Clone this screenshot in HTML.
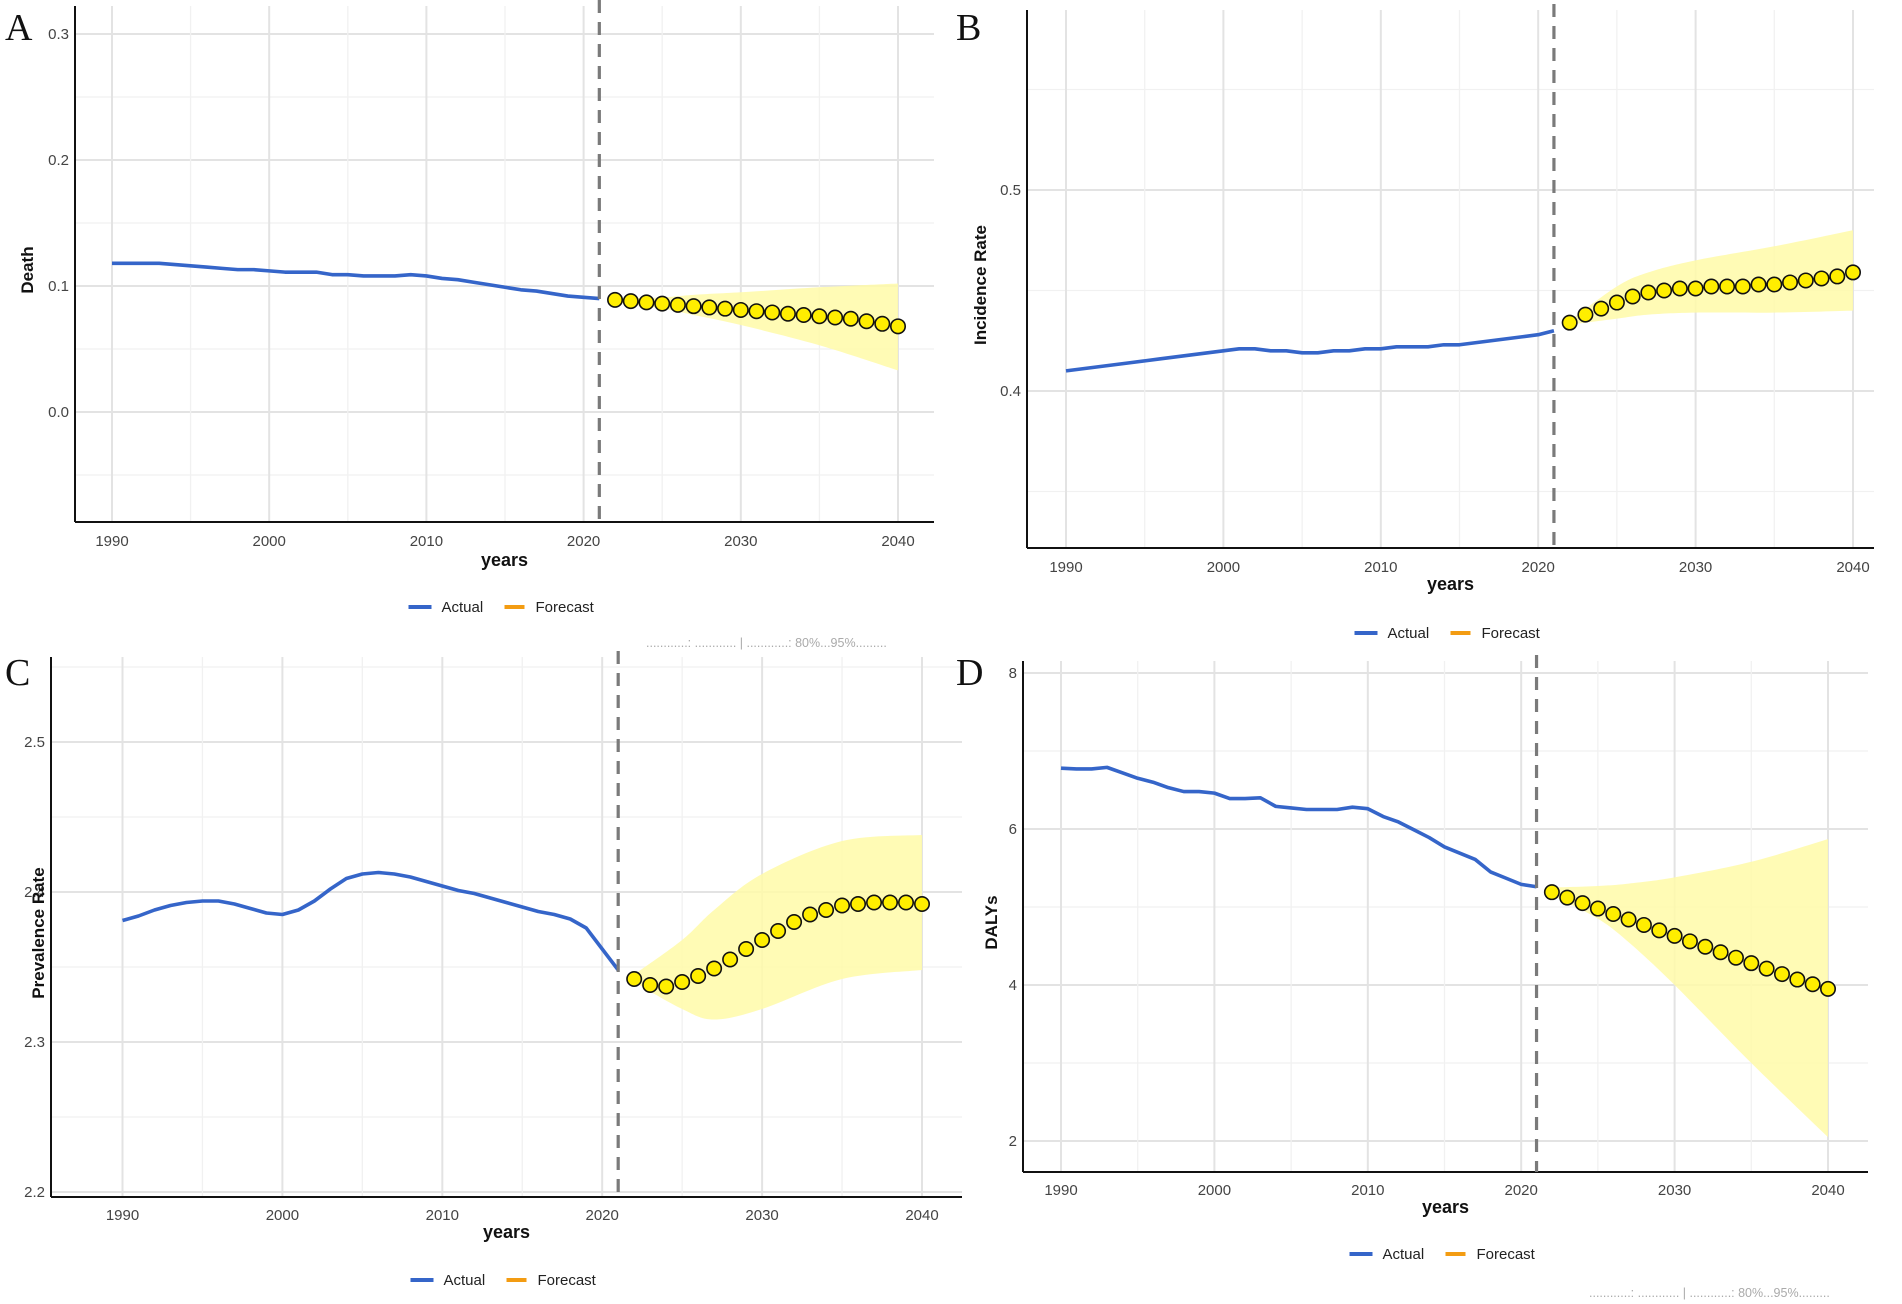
<!DOCTYPE html>
<html><head><meta charset="utf-8"><style>
html,body{margin:0;padding:0;background:#fff;}
svg{display:block;font-family:"Liberation Sans",sans-serif;}
</style></head><body>
<svg id="fig" width="1902" height="1304" viewBox="0 0 1902 1304" xmlns="http://www.w3.org/2000/svg"></svg>
<script>
// ---------- data ----------
const actualYears = [];
for (let y = 1990; y <= 2021; y++) actualYears.push(y);
const forecastYears = [];
for (let y = 2022; y <= 2040; y++) forecastYears.push(y);
const bandYears = [2022, 2025, 2027, 2030, 2035, 2040];

const deathActual = [.118,.118,.118,.118,.117,.116,.115,.114,.113,.113,.112,.111,.111,.111,.109,.109,.108,.108,.108,.109,.108,.106,.105,.103,.101,.099,.097,.096,.094,.092,.091,.090];
const deathForecast = [.089,.088,.087,.086,.085,.084,.083,.082,.081,.080,.079,.078,.077,.076,.075,.074,.072,.070,.068];
const deathLow = [.087,.082,.077,.069,.053,.033];
const deathHigh = [.090,.091,.093,.095,.099,.102];
const deathTicks = [0.0, 0.1, 0.2, 0.3];
const deathTickLabels = ["0.0","0.1","0.2","0.3"];

const incActual = [.410,.411,.412,.413,.414,.415,.416,.417,.418,.419,.420,.421,.421,.420,.420,.419,.419,.420,.420,.421,.421,.422,.422,.422,.423,.423,.424,.425,.426,.427,.428,.430];
const incForecast = [.434,.438,.441,.444,.447,.449,.450,.451,.451,.452,.452,.452,.453,.453,.454,.455,.456,.457,.459];
const incLow = [.433,.436,.438,.439,.439,.440];
const incHigh = [.435,.452,.459,.465,.472,.480];
const incTicks = [0.4, 0.5];
const incTickLabels = ["0.4","0.5"];

const prevActual = [2.381,2.384,2.388,2.391,2.393,2.394,2.394,2.392,2.389,2.386,2.385,2.388,2.394,2.402,2.409,2.412,2.413,2.412,2.410,2.407,2.404,2.401,2.399,2.396,2.393,2.390,2.387,2.385,2.382,2.376,2.362,2.348];
const prevForecast = [2.342,2.338,2.337,2.340,2.344,2.349,2.355,2.362,2.368,2.374,2.380,2.385,2.388,2.391,2.392,2.393,2.393,2.393,2.392];
const prevLow = [2.340,2.322,2.315,2.322,2.342,2.348];
const prevHigh = [2.345,2.368,2.388,2.412,2.434,2.438];
const prevTicks = [2.2, 2.3, 2.4, 2.5];
const prevTickLabels = ["2.2","2.3","2.4","2.5"];

const dalyActual = [6.78,6.77,6.77,6.79,6.72,6.65,6.60,6.53,6.48,6.48,6.46,6.39,6.39,6.40,6.29,6.27,6.25,6.25,6.25,6.28,6.26,6.16,6.09,5.99,5.89,5.77,5.69,5.61,5.45,5.37,5.29,5.26];
const dalyForecast = [5.19,5.12,5.05,4.98,4.91,4.84,4.77,4.70,4.63,4.56,4.49,4.42,4.35,4.28,4.21,4.14,4.07,4.01,3.95];
const dalyLow = [5.15,4.85,4.55,4.00,3.00,2.05];
const dalyHigh = [5.25,5.27,5.30,5.38,5.58,5.87];
const dalyTicks = [2, 4, 6, 8];
const dalyTickLabels = ["2","4","6","8"];

const xTicks = [1990, 2000, 2010, 2020, 2030, 2040];
const xTickLabels = ["1990","2000","2010","2020","2030","2040"];
const cutYear = 2021;

// ---------- layout (pixels) ----------
const panels = [
 {key:"death", letter:"A", lx:5, ly:40, title:"Death", tx:27,
  L:75, R:934, T:6, B:522, x0:1990, px0:112, x1:2040, px1:898, v0:0.1, pv0:286, v1:0.2, pv1:160,
  labY:535, yearsY:566, legY:607, act:deathActual, fc:deathForecast, lo:deathLow, hi:deathHigh, ticks:deathTicks, tl:deathTickLabels},
 {key:"incidence", letter:"B", lx:956, ly:40, title:"Incidence Rate", tx:980,
  L:1027, R:1874, T:10, B:548, x0:1990, px0:1066, x1:2040, px1:1853, v0:0.4, pv0:391, v1:0.5, pv1:190,
  labY:561, yearsY:590, legY:633, act:incActual, fc:incForecast, lo:incLow, hi:incHigh, ticks:incTicks, tl:incTickLabels},
 {key:"prevalence", letter:"C", lx:5, ly:685, title:"Prevalence Rate", tx:38,
  L:51, R:962, T:657, B:1197, x0:1990, px0:122.5, x1:2040, px1:922, v0:2.3, pv0:1042, v1:2.4, pv1:892,
  labY:1209, yearsY:1238, legY:1280, act:prevActual, fc:prevForecast, lo:prevLow, hi:prevHigh, ticks:prevTicks, tl:prevTickLabels},
 {key:"dalys", letter:"D", lx:956, ly:685, title:"DALYs", tx:991,
  L:1023, R:1868, T:661, B:1172, x0:1990, px0:1061, x1:2040, px1:1828, v0:4, pv0:985, v1:6, pv1:829,
  labY:1184, yearsY:1213, legY:1254, act:dalyActual, fc:dalyForecast, lo:dalyLow, hi:dalyHigh, ticks:dalyTicks, tl:dalyTickLabels}
];

const NS = "http://www.w3.org/2000/svg";
const svg = document.getElementById("fig");
function mk(tag, attrs, parent, text){
  const e = document.createElementNS(NS, tag);
  for (const k in attrs) e.setAttribute(k, attrs[k]);
  if (text !== undefined) e.textContent = text;
  (parent || svg).appendChild(e);
  return e;
}
// smooth path through points (Catmull-Rom -> cubic Bezier)
function smooth(pts, start){
  let d = start ? "M" + pts[0][0] + "," + pts[0][1] : "L" + pts[0][0] + "," + pts[0][1];
  for (let i = 0; i < pts.length - 1; i++) {
    const p0 = pts[Math.max(0, i-1)], p1 = pts[i], p2 = pts[i+1], p3 = pts[Math.min(pts.length-1, i+2)];
    const c1 = [p1[0] + (p2[0]-p0[0])/6, p1[1] + (p2[1]-p0[1])/6];
    const c2 = [p2[0] - (p3[0]-p1[0])/6, p2[1] - (p3[1]-p1[1])/6];
    d += "C" + c1[0] + "," + c1[1] + " " + c2[0] + "," + c2[1] + " " + p2[0] + "," + p2[1];
  }
  return d;
}

panels.forEach(p => {
  const g = mk("g", {});
  
  
  const xs = v => p.px0 + (v - p.x0) * (p.px1 - p.px0) / (p.x1 - p.x0);
  const ys = v => p.pv0 + (v - p.v0) * (p.pv1 - p.pv0) / (p.v1 - p.v0);
  const yv = px => p.v0 + (px - p.pv0) * (p.v1 - p.v0) / (p.pv1 - p.pv0);
  const step = p.ticks.length > 1 ? p.ticks[1] - p.ticks[0] : 0.1;

  // gridlines
  const vMin = yv(p.B), vMax = yv(p.T);
  const base = p.ticks[0];
  for (let k = Math.ceil((vMin - base) / (step/2)); base + k*step/2 <= vMax; k++) {
    const v = base + k*step/2, y = ys(v);
    const major = k % 2 === 0;
    const l = mk("line", {x1:p.L, x2:p.R, y1:y, y2:y, stroke: major ? "#e3e3e3" : "#f1f1f1", "stroke-width": major ? 2 : 1.3}, g);
    
    
  }
  for (let yr = 1985; yr <= 2045; yr += 5) {
    const x = xs(yr);
    if (x < p.L || x > p.R) continue;
    const major = yr % 10 === 0;
    const l = mk("line", {x1:x, x2:x, y1:p.T, y2:p.B, stroke: major ? "#e3e3e3" : "#f1f1f1", "stroke-width": major ? 2 : 1.3}, g);
    
    
  }

  // band
  const hiPts = bandYears.map((yr,i) => [xs(yr), ys(p.hi[i])]);
  const loPts = bandYears.map((yr,i) => [xs(yr), ys(p.lo[i])]).reverse();
  const d = smooth(hiPts, true) + smooth(loPts, false) + "Z";
  const band = mk("path", {d: d, fill:"#fffaa8", opacity:0.85}, g);
  
  

  // axes
  const ya = mk("line", {x1:p.L, x2:p.L, y1:p.T, y2:p.B, stroke:"#111", "stroke-width":2}, g);
  
  
  const xa = mk("line", {x1:p.L, x2:p.R, y1:p.B, y2:p.B, stroke:"#111", "stroke-width":2}, g);
  
  

  // tick labels
  p.ticks.forEach((v,i) => {
    const t = mk("text", {x:p.L - 6, y:ys(v) + 5, "text-anchor":"end", "font-size":15, fill:"#444"}, g, p.tl[i]);
    
    
  });
  xTicks.forEach((v,i) => {
    const t = mk("text", {x:xs(v), y:p.labY + 11, "text-anchor":"middle", "font-size":15, fill:"#444"}, g, xTickLabels[i]);
    
    
  });

  // actual line
  const pts = actualYears.map((yr,i) => xs(yr) + "," + ys(p.act[i])).join(" ");
  const al = mk("polyline", {points: pts, fill:"none", stroke:"#3565c9", "stroke-width":3.6, "stroke-linejoin":"round"}, g);
  
  

  // cutoff dashed line
  const cx = xs(cutYear);
  const dl = mk("line", {x1:cx, x2:cx, y1:p.T - 6, y2:p.B, stroke:"#7a7a7a", "stroke-width":3.2, "stroke-dasharray":"13 9"}, g);
  
  

  // forecast points
  forecastYears.forEach((yr,i) => {
    const c = mk("circle", {cx:xs(yr), cy:ys(p.fc[i]), r:7.2, fill:"#ffee00", stroke:"#111", "stroke-width":1.6}, g);
    
    
  });

  // titles
  const yt = mk("text", {x:p.tx, y:(p.T + p.B)/2, "text-anchor":"middle", "font-size":17, "font-weight":"bold", fill:"#111",
    transform:"rotate(-90 " + (p.tx + 6) + " " + ((p.T + p.B)/2) + ")"}, g, p.title);
  
  
  const xt = mk("text", {x:(p.L + p.R)/2, y:p.yearsY, "text-anchor":"middle", "font-size":18, "font-weight":"bold", fill:"#111"}, g, "years");
  
  
  const lt = mk("text", {x:p.lx, y:p.ly, "font-size":38, "font-family":"Liberation Serif, serif", fill:"#111"}, g, p.letter);
  
  

  // legend
  const lc = (p.L + p.R)/2 - 1;
  const lg = mk("g", {}, g);
  
  
  const l1 = mk("line", {x1:lc - 95, x2:lc - 72, y1:p.legY, y2:p.legY, stroke:"#3565c9", "stroke-width":4}, lg);
  
  
  const t1 = mk("text", {x:lc - 62, y:p.legY + 5, "font-size":15, fill:"#222"}, lg, "Actual");
  
  
  const l2 = mk("line", {x1:lc + 1, x2:lc + 21, y1:p.legY, y2:p.legY, stroke:"#f39c12", "stroke-width":4}, lg);
  
  
  const t2 = mk("text", {x:lc + 32, y:p.legY + 5, "font-size":15, fill:"#222"}, lg, "Forecast");
  
  
});

// footnotes
const f1 = mk("text", {x:646, y:647, "font-size":12.5, fill:"#aaa"}, svg, "............: ............ | ............: 80%...95%.........");


const f2 = mk("text", {x:1589, y:1297, "font-size":12.5, fill:"#aaa"}, svg, "............: ............ | ............: 80%...95%.........");


</script>
</body></html>
